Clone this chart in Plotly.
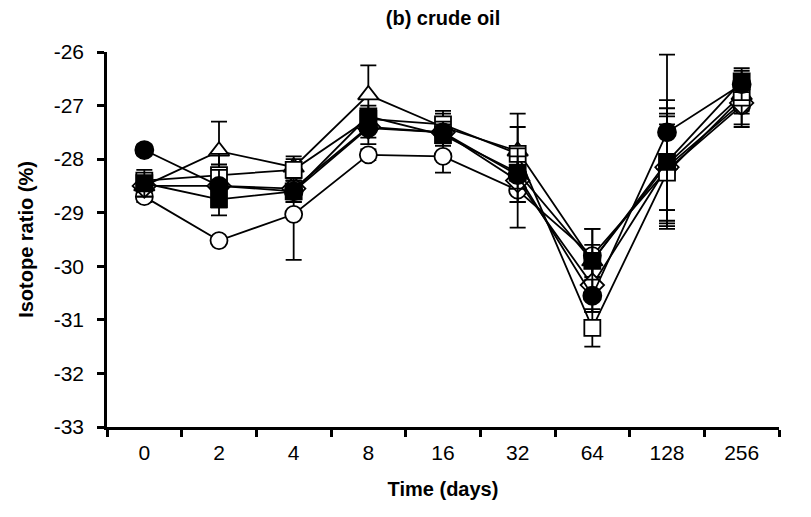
import plotly.graph_objects as go

days = ["0", "2", "4", "8", "16", "32", "64", "128", "256"]
y_ticks = [-33, -32, -31, -30, -29, -28, -27, -26]
y_tick_labels = ["-33", "-32", "-31", "-30", "-29", "-28", "-27", "-26"]

filled_circle = [-27.83, -28.5, -28.6, -27.42, -27.5, -28.3, -30.55, -27.5, -26.6]
filled_circle_err = [0.1, 0.3, 0.2, 0.3, 0.2, 0.5, 0.3, 1.45, 0.3]

open_circle = [-28.7, -29.52, -29.03, -27.92, -27.95, -28.58, -29.8, -28.2, -27.0]
open_circle_err = [0.1, 0.05, 0.85, 0.1, 0.3, 0.7, 0.5, 1.0, 0.4]

open_triangle = [-28.5, -27.85, -28.15, -26.8, -27.4, -27.85, -29.9, -28.1, -26.8]
open_triangle_err = [0.2, 0.55, 0.2, 0.55, 0.3, 0.7, 0.3, 1.2, 0.3]

open_square = [-28.4, -28.3, -28.2, -27.25, -27.35, -27.9, -31.15, -28.25, -26.85]
open_square_err = [0.1, 0.4, 0.2, 0.15, 0.2, 0.5, 0.35, 0.9, 0.3]

open_diamond = [-28.5, -28.5, -28.55, -27.4, -27.5, -28.4, -30.35, -28.15, -26.95]
open_diamond_err = [0.1, 0.4, 0.2, 0.2, 0.2, 0.4, 0.5, 1.1, 0.4]

filled_square = [-28.45, -28.75, -28.6, -27.2, -27.55, -28.25, -29.9, -28.05, -26.55]
filled_square_err = [0.25, 0.3, 0.2, 0.2, 0.2, 0.3, 0.6, 0.9, 0.2]

series = [
    ("open circle", open_circle, open_circle_err, "circle", "white", 17),
    ("open triangle", open_triangle, open_triangle_err, "triangle-up", "white", 18),
    ("open diamond", open_diamond, open_diamond_err, "diamond", "white", 18),
    ("open square", open_square, open_square_err, "square", "white", 16),
    ("filled circle", filled_circle, filled_circle_err, "circle", "black", 18),
    ("filled square", filled_square, filled_square_err, "square", "black", 16),
]

fig = go.Figure()
for name, vals, errs, sym, fill, size in series:
    fig.add_trace(go.Scatter(
        x=days, y=vals, name=name, mode="lines+markers",
        line=dict(color="black", width=1.8),
        marker=dict(symbol=sym, color=fill, size=size,
                    line=dict(color="black", width=1.8)),
        error_y=dict(type="data", array=errs, visible=True,
                     color="black", thickness=1.8, width=8),
        showlegend=False,
    ))

font = "Liberation Sans, Arial, sans-serif"
fig.update_layout(
    width=811, height=517,
    margin=dict(l=99, r=40, t=44, b=98),
    paper_bgcolor="white", plot_bgcolor="white",
    font=dict(family=font, size=21, color="black"),
    title=dict(text="<b>(b) crude oil</b>", x=0.5, xref="paper",
               xanchor="center", y=0.981, yanchor="middle",
               font=dict(family=font, size=20, color="black")),
    xaxis=dict(
        type="category", categoryorder="array", categoryarray=days,
        range=[-0.5, 8.5], tickson="boundaries",
        showline=True, linecolor="black", linewidth=2.5,
        ticks="outside", ticklen=7, tickwidth=2.5, tickcolor="black",
        ticklabelstandoff=5,
        showgrid=False, zeroline=False,
        tickfont=dict(family=font, size=21),
        title=dict(text="<b>Time (days)</b>", standoff=20,
                   font=dict(family=font, size=20)),
    ),
    yaxis=dict(
        range=[-33, -26], tickmode="array", tickvals=y_ticks,
        ticktext=y_tick_labels,
        showline=True, linecolor="black", linewidth=2.5,
        ticks="outside", ticklen=7, tickwidth=2.5, tickcolor="black",
        ticklabelstandoff=9,
        showgrid=False, zeroline=False,
        tickfont=dict(family=font, size=21),
        title=dict(text="<b>Isotope ratio (%)</b>", standoff=15,
                   font=dict(family=font, size=20)),
    ),
)

fig.write_html("out.html")
